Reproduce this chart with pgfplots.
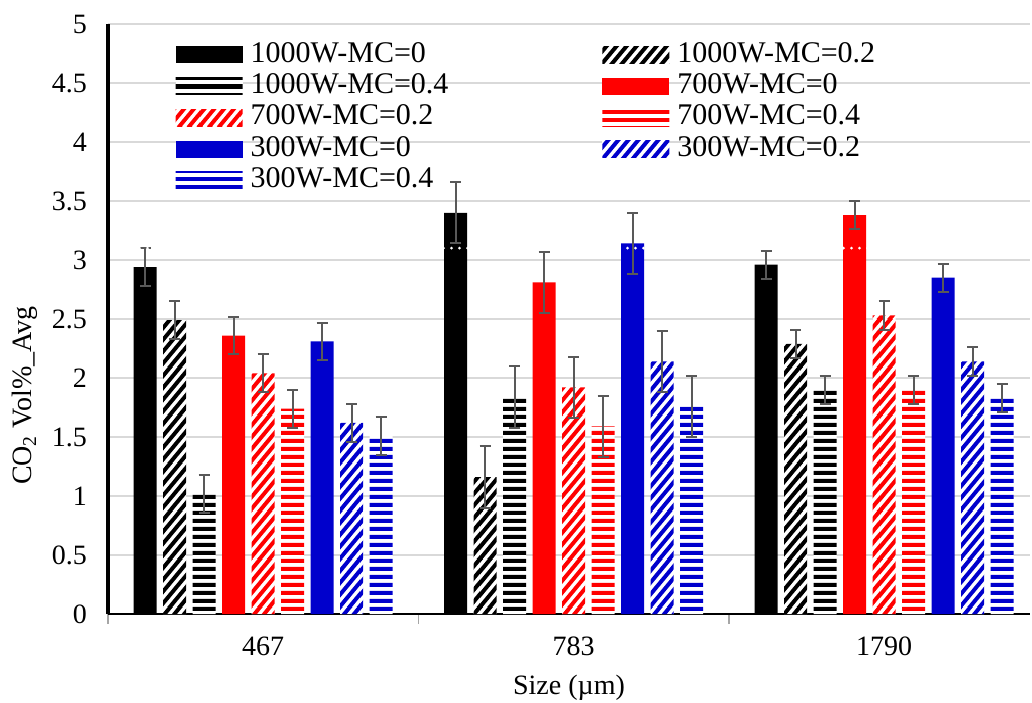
\documentclass[border=0pt]{standalone}
\usepackage{fontspec}
\setmainfont{Liberation Serif}
\usepackage{pgfplots}
\pgfplotsset{compat=1.18}
\usetikzlibrary{patterns}

\definecolor{cblue}{RGB}{0,0,204}
\definecolor{cred}{RGB}{255,0,0}
\definecolor{errgray}{RGB}{89,89,89}
\definecolor{gridgray}{RGB}{217,217,217}

% wide tiles, so that no seams show inside the bars
\pgfdeclarepatternformonly{hstripes}{\pgfpointorigin}{\pgfqpoint{200pt}{4.2pt}}{\pgfqpoint{200pt}{4.2pt}}{%
  \pgfpathrectangle{\pgfqpoint{0pt}{0pt}}{\pgfqpoint{200pt}{2.2pt}}\pgfusepath{fill}}
\pgfdeclarepatternformonly{dstripes}{\pgfpointorigin}{\pgfqpoint{20pt}{24pt}}{\pgfqpoint{20pt}{24pt}}{%
  \pgfsetlinewidth{2pt}%
  \foreach \m in {-5,...,4}{%
    \pgfpathmoveto{\pgfpoint{\m*5pt-5pt}{-6pt}}%
    \pgfpathlineto{\pgfpoint{\m*5pt+25pt}{30pt}}%
    \pgfusepath{stroke}}}

\tikzset{
  solidbar/.style={fill=#1, draw=none},
  diagbar/.style={fill=white, draw=none,
    postaction={pattern=dstripes, pattern color=#1}},
  horizbar/.style={fill=white, draw=none,
    postaction={pattern=hstripes, pattern color=#1}},
}

\begin{document}
\begin{tikzpicture}
\begin{axis}[
  scale only axis, width=461pt, height=295pt,
  xmin=-0.5, xmax=2.47, ymin=0, ymax=5,
  ybar=3.25pt, bar width=11.5pt,
  axis x line*=bottom, axis y line*=left,
  x axis line style={black, line width=1.2pt},
  y axis line style={black, line width=1.6pt},
  xtick={0,1,2}, xticklabels={467,783,1790},
  minor xtick={-0.5,0.5,1.5},
  major tick length=0pt, minor tick length=5pt,
  xtick align=outside,
  minor tick style={gray!70, line width=0.7pt},
  ytick={0,0.5,...,5},
  ytick style={draw=none},
  ymajorgrids, grid style={gridgray, line width=1pt},
  /pgf/number format/assume math mode=true,
  tick label style={font=\fontsize{14}{16}\selectfont},
  yticklabel style={anchor=east, xshift=-7pt},
  xticklabel style={yshift=-8pt},
  label style={font=\fontsize{14}{16}\selectfont},
  xlabel={Size (µm)},
  ylabel={CO\textsubscript{2} Vol\%\_Avg},
  xlabel style={at={(axis description cs:0.5,-0.125)}, anchor=center},
  ylabel style={at={(axis description cs:-0.09,0.37)}, anchor=center},
  error bars/y dir=both, error bars/y explicit,
  error bars/error bar style={errgray, line width=1pt},
  error bars/error mark options={errgray, rotate=90, mark size=2.8pt, line width=1pt},
  legend image code/.code={\path[#1] (0pt,-4.25pt) rectangle (33.5pt,4.25pt);},
  legend columns=2,
  legend style={at={(rel axis cs:0.073,0.975)}, anchor=north west,
    draw=none, fill=none, inner sep=0pt, row sep=0pt,
    font=\fontsize{15}{17}\selectfont,
    nodes={inner xsep=1pt, inner ysep=1pt, text height=10.5pt, text depth=3.2pt},
    /tikz/every odd column/.append style={column sep=3pt},
    /tikz/every even column/.append style={column sep=76pt}},
  legend cell align=left,
]
\addplot[solidbar=black] coordinates {(0,2.94) +- (0,0.16) (1,3.40) +- (0,0.26) (2,2.96) +- (0,0.12)};
\addlegendentry{1000W-MC=0}
\addplot[diagbar=black] coordinates {(0,2.49) +- (0,0.16) (1,1.16) +- (0,0.26) (2,2.29) +- (0,0.12)};
\addlegendentry{1000W-MC=0.2}
\addplot[horizbar=black] coordinates {(0,1.02) +- (0,0.16) (1,1.84) +- (0,0.26) (2,1.90) +- (0,0.12)};
\addlegendentry{1000W-MC=0.4}
\addplot[solidbar=cred] coordinates {(0,2.36) +- (0,0.16) (1,2.81) +- (0,0.26) (2,3.38) +- (0,0.12)};
\addlegendentry{700W-MC=0}
\addplot[diagbar=cred] coordinates {(0,2.04) +- (0,0.16) (1,1.92) +- (0,0.26) (2,2.53) +- (0,0.12)};
\addlegendentry{700W-MC=0.2}
\addplot[horizbar=cred] coordinates {(0,1.74) +- (0,0.16) (1,1.59) +- (0,0.26) (2,1.90) +- (0,0.12)};
\addlegendentry{700W-MC=0.4}
\addplot[solidbar=cblue] coordinates {(0,2.31) +- (0,0.16) (1,3.14) +- (0,0.26) (2,2.85) +- (0,0.12)};
\addlegendentry{300W-MC=0}
\addplot[diagbar=cblue] coordinates {(0,1.62) +- (0,0.16) (1,2.14) +- (0,0.26) (2,2.14) +- (0,0.12)};
\addlegendentry{300W-MC=0.2}
\addplot[horizbar=cblue] coordinates {(0,1.51) +- (0,0.16) (1,1.76) +- (0,0.26) (2,1.83) +- (0,0.12)};
\addlegendentry{300W-MC=0.4}
\end{axis}
% overlay axis: white dotted line that shows through the tallest bars
\begin{axis}[
  scale only axis, width=461pt, height=295pt,
  xmin=-0.5, xmax=2.47, ymin=0, ymax=5, hide axis,
]
\addplot[white, line width=1.5pt, dash pattern=on 0pt off 4pt, line cap=round]
  coordinates {(-0.45,3.1) (2.45,3.1)};
\end{axis}
\pgfresetboundingbox
\path ([shift={(-54pt,-44pt)}]current axis.south west) rectangle ([shift={(1pt,12pt)}]current axis.north east);
\end{tikzpicture}
\end{document}
